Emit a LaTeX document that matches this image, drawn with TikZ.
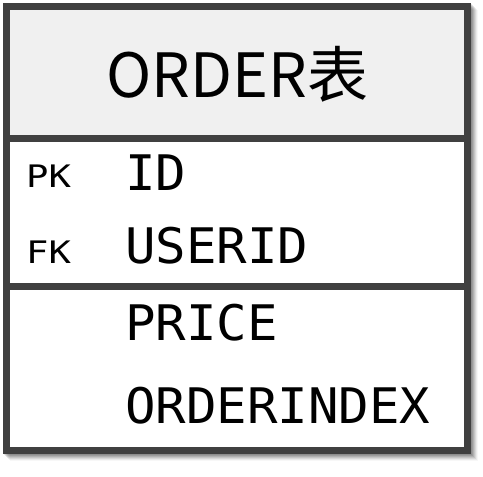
\documentclass[tikz,border=0pt]{standalone}
\usepackage{fontspec}
\newfontfamily\cjkfont{Noto Sans CJK SC}
\newfontfamily\monofont[FakeStretch=1.035]{DejaVu Sans Mono}
\newfontfamily\tagfont[FakeStretch=1.2]{DejaVu Sans Mono}
\definecolor{frame}{HTML}{404040}
\definecolor{headfill}{HTML}{F0F0F0}
\begin{document}
\begin{tikzpicture}[x=1pt,y=-1pt,
  field/.style={anchor=base west,inner sep=0pt,font=\monofont\fontsize{49}{55}\selectfont},
  keytag/.style={anchor=base west,inner sep=0pt,font=\tagfont\fontsize{31}{36}\selectfont},
  title/.style={anchor=base,inner sep=0pt,font=\cjkfont\fontsize{61}{70}\selectfont},
  border/.style={draw=frame,line width=7pt}]
\useasboundingbox (0,0) rectangle (483,477);
\fill[white] (0,0) rectangle (483,477);
% shadow
\foreach \i/\o in {1/0.10,2/0.10,3/0.10,4/0.09,5/0.07,6/0.05,7/0.03}{
  \fill[black,opacity=\o] (3+\i,3+\i) rectangle (471+\i,454+\i);
}
% body
\fill[white] (6.5,6.5) rectangle (467.5,450.5);
\fill[headfill] (6.5,6.5) rectangle (467.5,138.5);
\draw[border] (6.5,138.5) -- (467.5,138.5);
\draw[border] (6.5,286) -- (467.5,286);
\draw[border] (6.5,6.5) rectangle (467.5,450.5);
% texts
\node[title] (ttl) at (237.5,97) {ORDER表};
\node[keytag] (pk) at (26,187) {PK};
\node[keytag] (fk) at (26,263) {FK};
\node[field] (id) at (125,190) {ID};
\node[field] (userid) at (125,263) {USERID};
\node[field] (price) at (125,340) {PRICE};
\node[field] (oidx) at (125,423) {ORDERINDEX};
\end{tikzpicture}
\end{document}
